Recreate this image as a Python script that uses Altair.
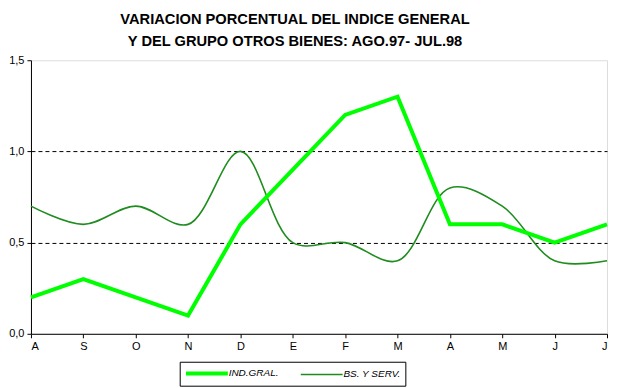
import json
import altair as alt
import pandas as pd

months = ["A", "S", "O", "N", "D", "E", "F", "M", "A", "M", "J", "J"]
ind_gral = [0.2, 0.3, 0.2, 0.1, 0.6, 0.9, 1.2, 1.3, 0.6, 0.6, 0.5, 0.6]
bs_serv = [0.7, 0.6, 0.7, 0.6, 1.0, 0.5, 0.5, 0.4, 0.8, 0.7, 0.4, 0.4]
series_names = ["IND.GRAL.", "BS. Y SERV."]
series_colors = ["#00FF00", "#1E8C1E"]
series_widths = [4, 1.6]
y_ticks = [0, 0.5, 1.0, 1.5]

rows = []
for i, v in enumerate(ind_gral):
    rows.append({"idx": i, "serie": series_names[0], "valor": v})
for i, v in enumerate(bs_serv):
    rows.append({"idx": i, "serie": series_names[1], "valor": v})
df = pd.DataFrame(rows)

FONT = "Liberation Sans"
label_expr = json.dumps(months) + "[datum.value]"

x = alt.X("idx:Q",
          scale=alt.Scale(domain=[0, len(months) - 1], nice=False, zero=False),
          axis=alt.Axis(title=None, values=list(range(len(months))), labelExpr=label_expr,
                        grid=False, tickColor="black", domainColor="black", tickSize=4,
                        labelFontSize=11, labelColor="black", labelPadding=3))
y = alt.Y("valor:Q",
          scale=alt.Scale(domain=[0, 1.5], nice=False),
          axis=alt.Axis(title=None, values=y_ticks,
                        labelExpr="replace(format(datum.value, '.1f'), '.', ',')",
                        grid=True, gridColor="black", gridDash=[4, 3], gridWidth=1,
                        gridOpacity={"condition": {"test": "datum.value == 0 || datum.value == 1.5",
                                                   "value": 0}, "value": 1},
                        tickColor="black", domainColor="black", tickSize=4,
                        labelFontSize=11, labelColor="black", labelPadding=3))


def make_legend():
    return alt.Legend(title=None, orient="none", legendX=149, legendY=302,
                      direction="horizontal", columns=2,
                      symbolType="M-1,0H7", symbolSize=110,
                      labelOffset=30, columnPadding=18,
                      labelFont=FONT, labelFontStyle="italic", labelFontSize=10,
                      labelColor="black",
                      strokeColor="black", padding=4,
                      fillColor="white")


color = alt.Color("serie:N", scale=alt.Scale(domain=series_names, range=series_colors),
                  legend=make_legend())
width = alt.StrokeWidth("serie:N", scale=alt.Scale(domain=series_names, range=series_widths),
                        legend=make_legend())

base = alt.Chart(df)

bs_line = base.transform_filter(alt.datum.serie == series_names[1]).mark_line(
    interpolate="catmull-rom", clip=False
).encode(x=x, y=y, color=color, strokeWidth=width)

ind_line = base.transform_filter(alt.datum.serie == series_names[0]).mark_line(
    interpolate="linear", clip=False
).encode(x=x, y=y, color=color, strokeWidth=width)

chart = alt.layer(bs_line, ind_line).properties(
    width=577, height=274,
    autosize="none",
    padding={"left": 23, "top": 52, "right": 5, "bottom": 66},
    title=alt.TitleParams(
        text=["VARIACION PORCENTUAL DEL INDICE GENERAL", "Y DEL GRUPO OTROS BIENES: AGO.97- JUL.98"],
        font=FONT, fontSize=14.7, fontWeight="bold", color="black",
        anchor="middle", dx=-24, offset=6, lineHeight=22,
    ),
).configure_view(stroke="black", strokeWidth=1).configure_axis(
    labelFont=FONT
).configure(background="white")

chart.save("out.html", embed_options={"renderer": "svg", "actions": False})
